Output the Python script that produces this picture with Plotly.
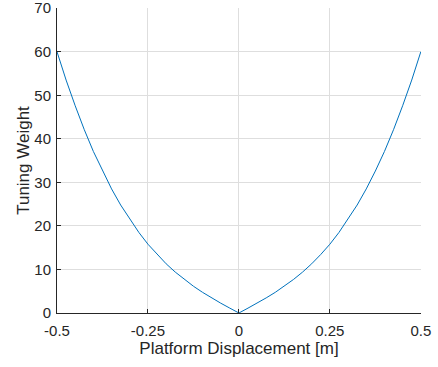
import plotly.graph_objects as go

# Values (curve is symmetric about x = 0)
displacement = [-0.5, -0.475, -0.45, -0.425, -0.4, -0.375, -0.35, -0.325, -0.3, -0.275,
                -0.25, -0.225, -0.2, -0.175, -0.15, -0.125, -0.1, -0.075, -0.05, -0.025,
                0.0,
                0.025, 0.05, 0.075, 0.1, 0.125, 0.15, 0.175, 0.2, 0.225,
                0.25, 0.275, 0.3, 0.325, 0.35, 0.375, 0.4, 0.425, 0.45, 0.475, 0.5]
weight = [60.0, 53.5, 47.6, 42.1, 37.1, 32.6, 28.5, 24.8, 21.5, 18.5,
          15.8, 13.45, 11.3, 9.4, 7.7, 6.15, 4.75, 3.47, 2.26, 1.12,
          0.0,
          1.12, 2.26, 3.47, 4.75, 6.15, 7.7, 9.4, 11.3, 13.45,
          15.8, 18.5, 21.5, 24.8, 28.5, 32.6, 37.1, 42.1, 47.6, 53.5, 60.0]

x_ticks = [-0.5, -0.25, 0, 0.25, 0.5]
x_tick_labels = ["-0.5", "-0.25", "0", "0.25", "0.5"]
y_ticks = [0, 10, 20, 30, 40, 50, 60, 70]
y_tick_labels = ["0", "10", "20", "30", "40", "50", "60", "70"]

font_family = "Liberation Sans, Arial, sans-serif"
text_color = "#262626"
grid_color = "#dedede"

fig = go.Figure()
fig.add_trace(go.Scatter(x=displacement, y=weight, mode="lines",
                         line=dict(color="#0072BD", width=1), showlegend=False))

fig.update_layout(
    width=438, height=367,
    margin=dict(l=57, r=17, t=8, b=54),
    paper_bgcolor="white", plot_bgcolor="white",
    font=dict(family=font_family, size=15, color=text_color),
    xaxis=dict(
        range=[-0.5, 0.5005], tickvals=x_ticks, ticktext=x_tick_labels,
        showgrid=True, gridcolor=grid_color, gridwidth=1, zeroline=False,
        showline=True, linecolor=text_color, linewidth=1,
        ticks="inside", ticklen=4, tickcolor=text_color,
        ticklabelstandoff=4, ticklabeloverflow="allow", automargin=False,
        title=dict(text="Platform Displacement [m]", font=dict(size=17), standoff=3),
    ),
    yaxis=dict(
        range=[0, 70.05], tickvals=y_ticks, ticktext=y_tick_labels,
        showgrid=True, gridcolor=grid_color, gridwidth=1, zeroline=False,
        showline=True, linecolor=text_color, linewidth=1,
        ticks="inside", ticklen=4, tickcolor=text_color,
        ticklabelstandoff=2, ticklabeloverflow="allow", automargin=False,
        title=dict(text="Tuning Weight", font=dict(size=17), standoff=0),
    ),
)

fig.write_html("out.html")
